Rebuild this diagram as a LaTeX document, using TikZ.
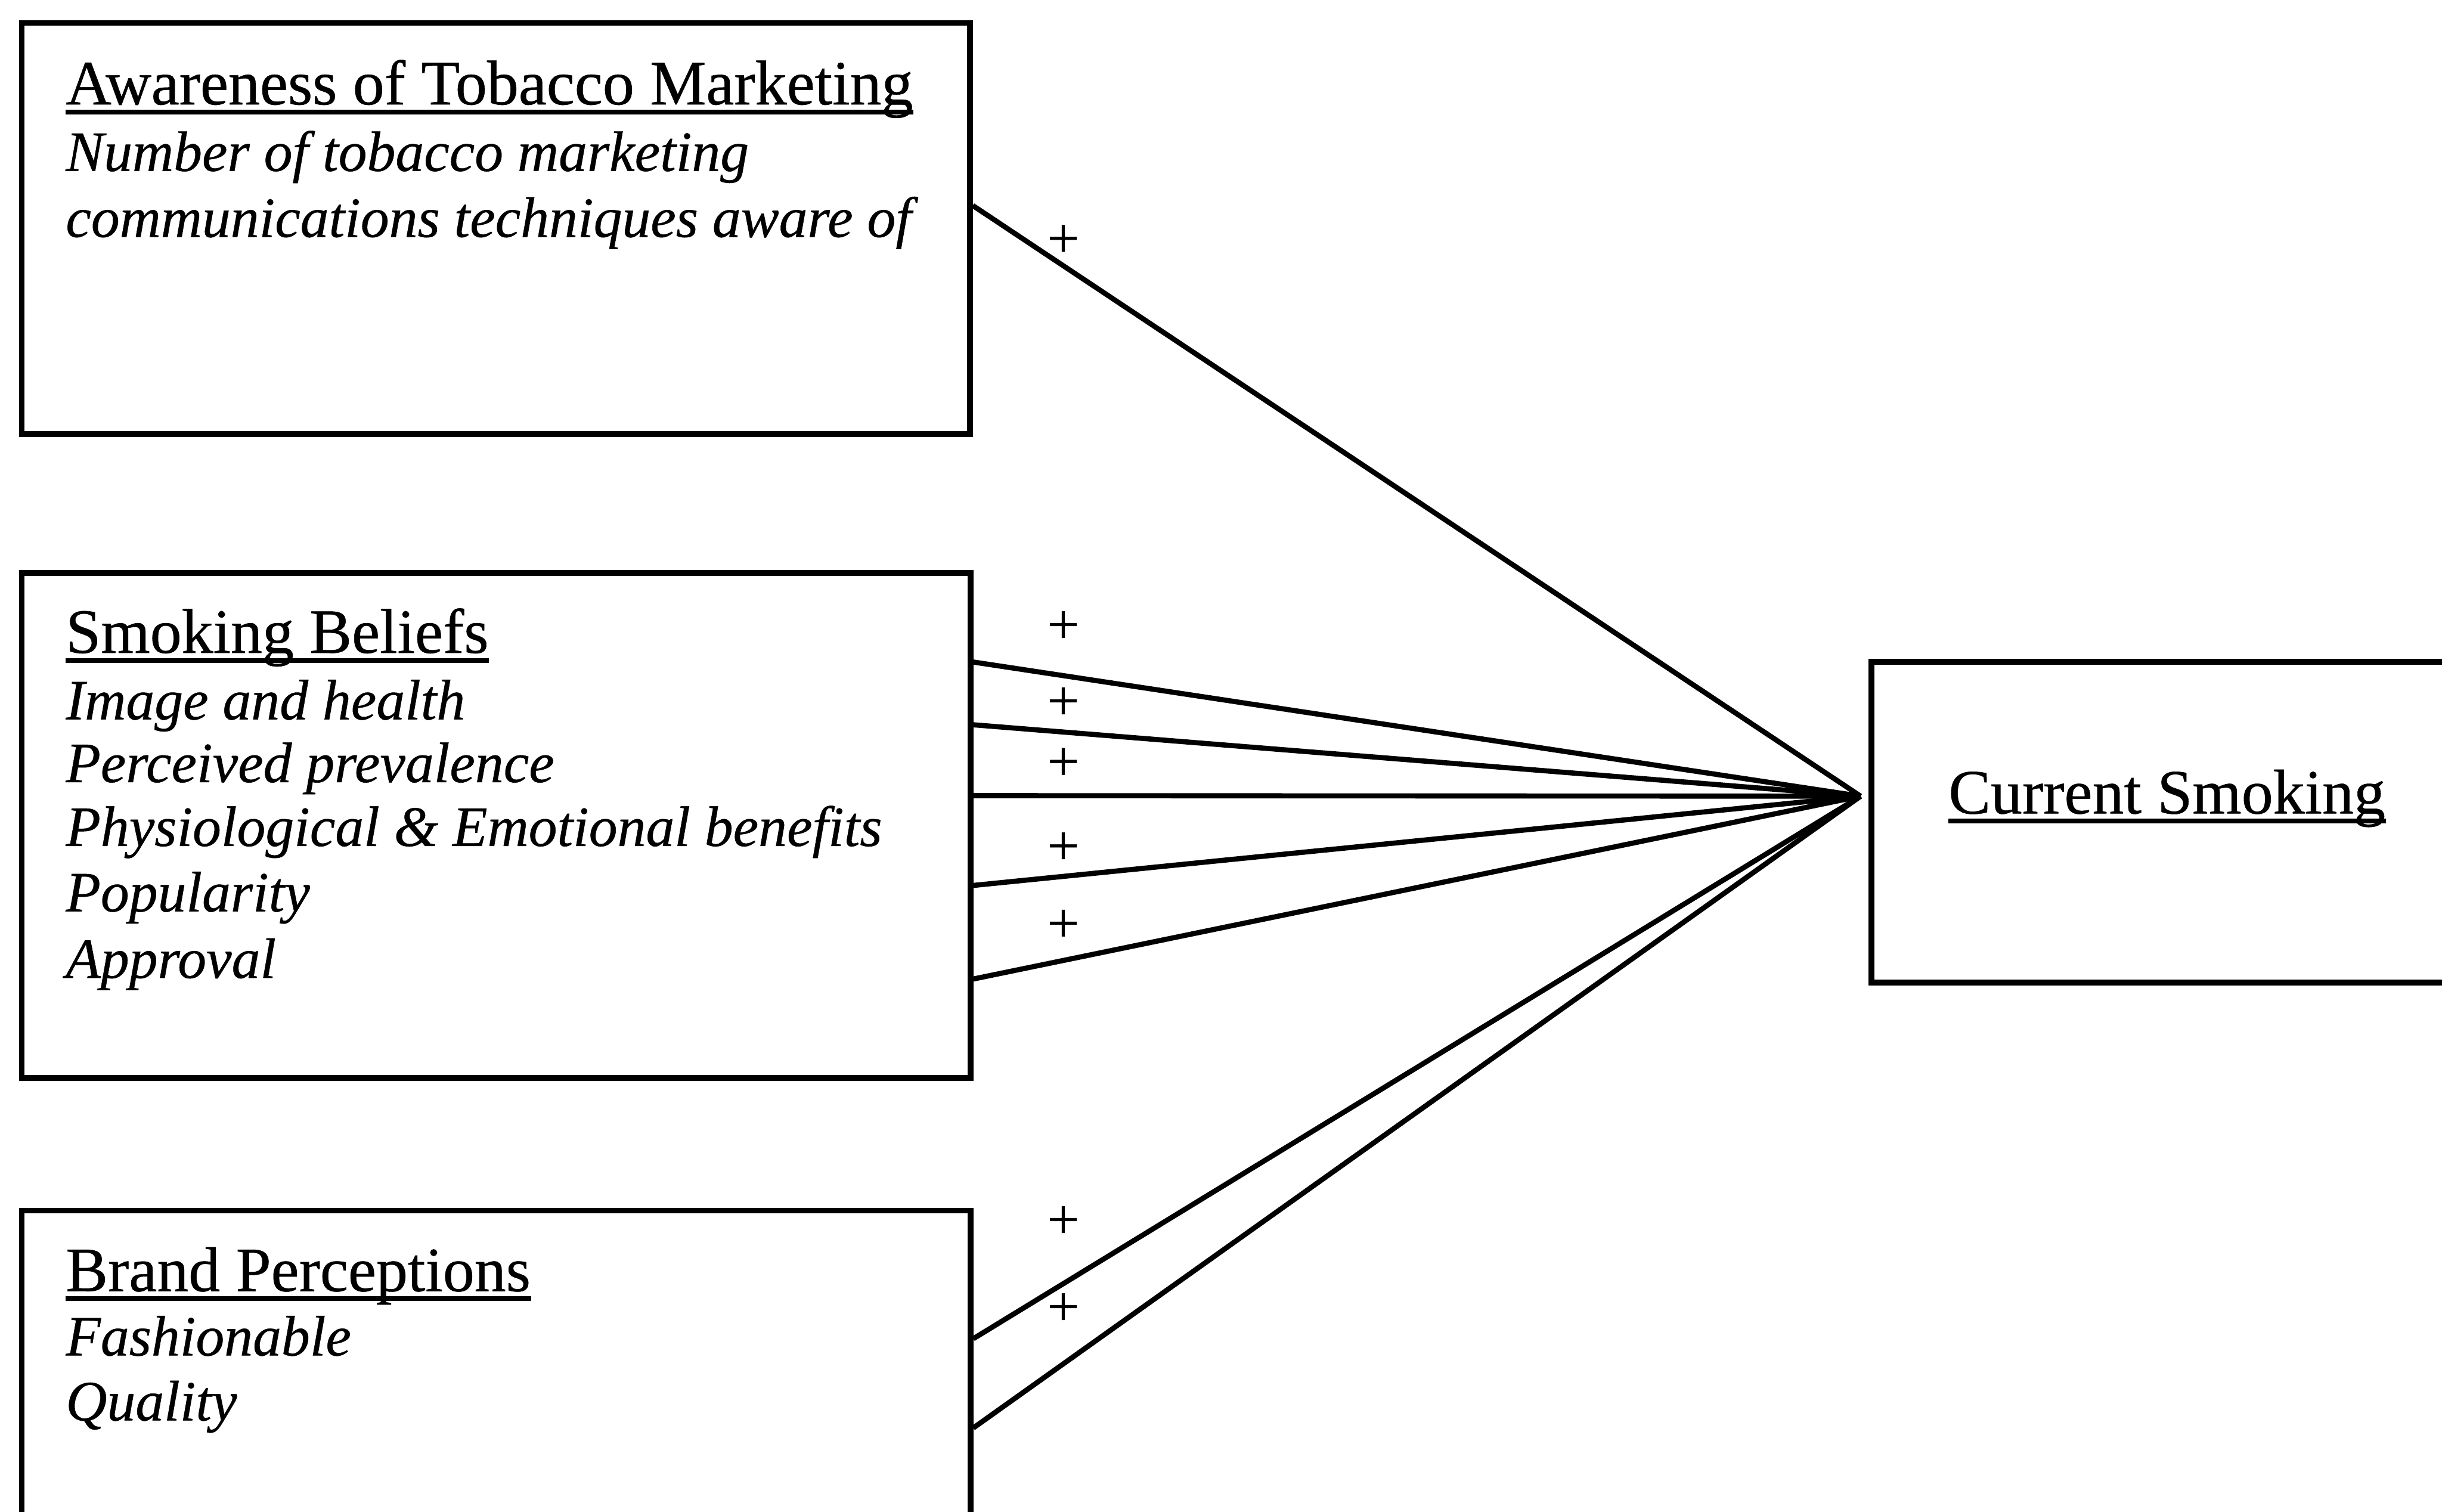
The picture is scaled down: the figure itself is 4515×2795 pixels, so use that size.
\documentclass[tikz,border=0pt]{standalone}
\usepackage{fontspec}
\setmainfont{Liberation Serif}[FakeBold=0.5]
\begin{document}
\begin{tikzpicture}[x=0.01cm, y=-0.01cm,
  panel/.style={draw, line width=3pt, inner sep=0pt, anchor=north west},
  link/.style={line width=2.7pt},
  head/.style={inner sep=0pt, anchor=base west, font=\fontsize{33.2}{38}\selectfont},
  item/.style={inner sep=0pt, anchor=base west, font=\fontsize{30}{36}\selectfont\itshape},
  sign/.style={inner sep=0pt, font=\fontsize{30}{36}\selectfont},
  uline/.style={line width=2.4pt}]
\useasboundingbox (0,0) rectangle (4515,2795);
\clip (0,0) rectangle (4515,2795);

% predictor and outcome boxes
\node[panel, minimum width=17.52cm, minimum height=7.60cm] (aware) at (35,37) {};
\node[panel, minimum width=17.53cm, minimum height=9.33cm] (beliefs) at (35,1054) {};
\node[panel, minimum width=17.53cm, minimum height=8.00cm] (brand) at (35,2233) {};
\node[panel, minimum width=12.00cm, minimum height=5.93cm] (current) at (3455,1218) {};

% box texts
\node[head] (aT) at (121,193) {Awareness of Tobacco Marketing};
\node[item] (a1) at (121,316) {Number of tobacco marketing};
\node[item] (a2) at (121,438) {communications techniques aware of};

\node[head] (bT) at (121,1207) {Smoking Beliefs};
\node[item] (b1) at (121,1330) {Image and health};
\node[item] (b2) at (121,1446) {Perceived prevalence};
\node[item] (b3) at (121,1564) {Physiological \& Emotional benefits};
\node[item] (b4) at (121,1685) {Popularity};
\node[item] (b5) at (121,1808) {Approval};

\node[head] (cT) at (121,2387) {Brand Perceptions};
\node[item] (c1) at (121,2506) {Fashionable};
\node[item] (c2) at (121,2626) {Quality};

\node[head] (dT) at (3602,1504) {Current Smoking};

% underlined headings
\foreach \t in {aT,bT,cT,dT}
  \draw[uline] ([yshift=-0.14cm]\t.base west) -- ([yshift=-0.14cm]\t.base east);

% connector end points
\coordinate (hub) at (3440,1472);
\coordinate (pa)  at (aware.east |- 0,380);
\coordinate (pb1) at (beliefs.east |- 0,1224);
\coordinate (pb2) at (beliefs.east |- 0,1340);
\coordinate (pb3) at (beliefs.east |- 0,1471);
\coordinate (pb4) at (beliefs.east |- 0,1637);
\coordinate (pb5) at (beliefs.east |- 0,1810);
\coordinate (pc1) at (brand.east |- 0,2475);
\coordinate (pc2) at (brand.east |- 0,2640);

\foreach \p in {pa,pb1,pb2,pb3,pb4,pb5,pc1,pc2}
  \draw[link] (\p) -- (hub);

% signs of the effects
\foreach \y [count=\i] in {446,1160,1301,1413,1569,1712,2260,2421}
  \node[sign] (s\i) at (1966,\y) {+};
\end{tikzpicture}
\end{document}
